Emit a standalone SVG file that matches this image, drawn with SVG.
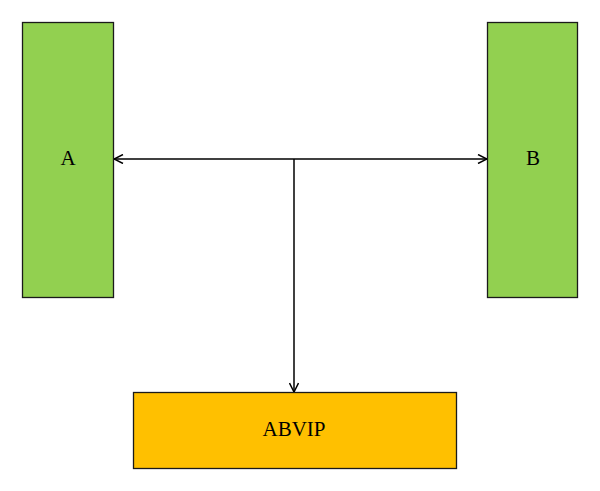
<svg xmlns="http://www.w3.org/2000/svg" width="600" height="491" viewBox="0 0 600 491">
<style>
.box{stroke:#1a1a1a;stroke-width:1.3}
.g{fill:#92D050}
.o{fill:#FFC000}
.t{font-family:"Liberation Serif",serif;fill:#000;text-anchor:middle;font-size:21px}
.c{stroke:#000;stroke-width:1.5;fill:none}
</style>
<defs>
<marker id="arr" viewBox="0 0 10 10" refX="10" refY="5" markerWidth="10" markerHeight="10" markerUnits="userSpaceOnUse" orient="auto-start-reverse">
<path d="M1,0.5 L10,5 L1,9.5" fill="none" stroke="#000" stroke-width="1.5"/>
</marker>
</defs>
<rect width="600" height="491" fill="#fff"/>
<g id="nodeA"><rect class="box g" x="22.5" y="22.5" width="91" height="275"/><text class="t" x="68" y="165">A</text></g>
<g id="nodeB"><rect class="box g" x="487.5" y="22.5" width="90" height="275"/><text class="t" x="533" y="165">B</text></g>
<g id="nodeABVIP"><rect class="box o" x="133.5" y="392.5" width="323" height="76"/><text class="t" x="294" y="436">ABVIP</text></g>
<g id="connectors">
<line class="c" x1="114" y1="159" x2="487" y2="159" marker-start="url(#arr)" marker-end="url(#arr)"/>
<line class="c" x1="294" y1="159" x2="294" y2="392" marker-end="url(#arr)"/>
</g>
</svg>
